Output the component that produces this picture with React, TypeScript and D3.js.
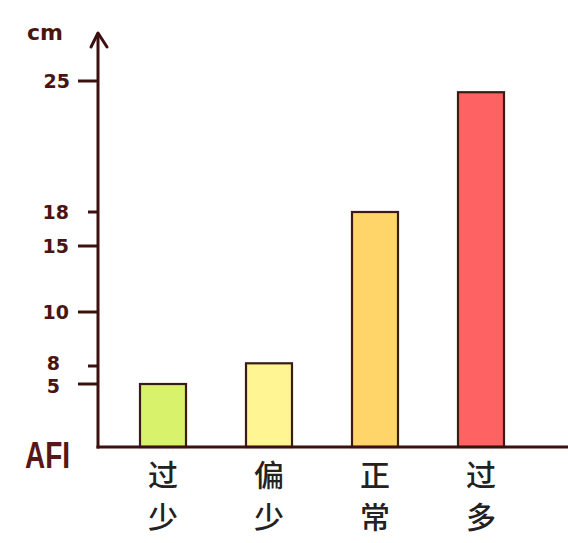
import { useEffect, useRef } from 'react'
import * as d3 from 'd3'

// categories and AFI values (cm)
const categories = ['过少', '偏少', '正常', '过多']
const values = [5, 8.1, 18, 24.4]
const barColors = ['#d8f26c', '#fff592', '#ffd56a', '#ff6262']

// hand-drawn axis: tick values and their (uneven) spacing
const tickValues = [5, 8, 10, 15, 18, 25]
const shortTicks = [8, 18]
const scaleDomain = [0, 5, 8, 10, 15, 18, 25]
const scaleRange = [447, 384, 366, 312, 246, 212, 81]

export default function App() {
  const svgRef = useRef<SVGSVGElement>(null)
  const width = 568
  const height = 543

  useEffect(() => {
    if (!svgRef.current) return
    const svg = d3.select(svgRef.current)
    svg.selectAll('*').remove()

    const axisColor = '#3d1010'
    const textColor = '#4a1414'
    const axisX = 98
    const baseY = 447

    const y = d3.scaleLinear().domain(scaleDomain).range(scaleRange)
    const x = d3
      .scaleBand<string>()
      .domain(categories)
      .range([140, 504])
      .paddingInner(0.566)
      .paddingOuter(0)

    // bars
    svg
      .append('g')
      .selectAll('rect')
      .data(values)
      .enter()
      .append('rect')
      .attr('x', (_, i) => x(categories[i]) || 0)
      .attr('y', (d) => y(d))
      .attr('width', x.bandwidth())
      .attr('height', (d) => baseY - y(d))
      .attr('fill', (_, i) => barColors[i])
      .attr('stroke', '#3a1c14')
      .attr('stroke-width', 2.2)

    // axes
    svg
      .append('line')
      .attr('x1', axisX)
      .attr('x2', axisX)
      .attr('y1', baseY + 1.5)
      .attr('y2', 33)
      .attr('stroke', axisColor)
      .attr('stroke-width', 3)
    svg
      .append('line')
      .attr('x1', axisX - 1.5)
      .attr('x2', width)
      .attr('y1', baseY)
      .attr('y2', baseY)
      .attr('stroke', axisColor)
      .attr('stroke-width', 3)
    svg
      .append('path')
      .attr('d', `M${axisX - 7},47 L${axisX},33 L${axisX + 9},47`)
      .attr('fill', 'none')
      .attr('stroke', axisColor)
      .attr('stroke-width', 3)
      .attr('stroke-linecap', 'round')
      .attr('stroke-linejoin', 'round')

    // ticks
    const ticks = svg.append('g')
    ticks
      .selectAll('line')
      .data(tickValues)
      .enter()
      .append('line')
      .attr('x1', (d) => (shortTicks.includes(d) ? axisX - 10 : axisX - 20))
      .attr('x2', axisX)
      .attr('y1', (d) => y(d))
      .attr('y2', (d) => y(d))
      .attr('stroke', axisColor)
      .attr('stroke-width', 3)

    ticks
      .selectAll('text')
      .data(tickValues)
      .enter()
      .append('text')
      .attr('x', (d) => (d === 25 ? 70 : d < 10 ? 60 : 69))
      .attr('y', (d) => y(d) + (d === 8 ? -3 : d === 5 ? 2 : 0))
      .attr('dy', '0.35em')
      .attr('text-anchor', 'end')
      .attr('font-family', 'DejaVu Sans, sans-serif')
      .attr('font-weight', 600)
      .attr('font-size', 19)
      .attr('fill', textColor)
      .text((d) => d)

    // unit and axis name
    svg
      .append('text')
      .attr('x', 27)
      .attr('y', 40)
      .attr('font-family', 'DejaVu Sans, sans-serif')
      .attr('font-weight', 600)
      .attr('font-size', 22)
      .attr('fill', textColor)
      .text('cm')

    svg
      .append('text')
      .attr('x', 25)
      .attr('y', 468)
      .attr('font-family', 'Liberation Sans, sans-serif')
      .attr('font-weight', 700)
      .attr('font-size', 37)
      .attr('textLength', 45)
      .attr('lengthAdjust', 'spacingAndGlyphs')
      .attr('fill', '#5a1616')
      .text('AFI')

    // category labels, written top to bottom
    svg
      .append('g')
      .selectAll('text')
      .data(categories)
      .enter()
      .append('text')
      .attr('x', (d) => (x(d) || 0) + x.bandwidth() / 2)
      .attr('y', 460)
      .style('writing-mode', 'vertical-rl')
      .attr('text-anchor', 'start')
      .attr('font-family', 'Noto Sans CJK SC, sans-serif')
      .attr('font-weight', 500)
      .attr('font-size', 30)
      .attr('letter-spacing', 12)
      .attr('fill', '#222')
      .text((d) => d)
  }, [])

  return (
    <div style={{ position: 'absolute', left: 0, top: 0, background: '#fff' }}>
      <svg ref={svgRef} width={width} height={height} style={{ display: 'block' }} />
    </div>
  )
}
